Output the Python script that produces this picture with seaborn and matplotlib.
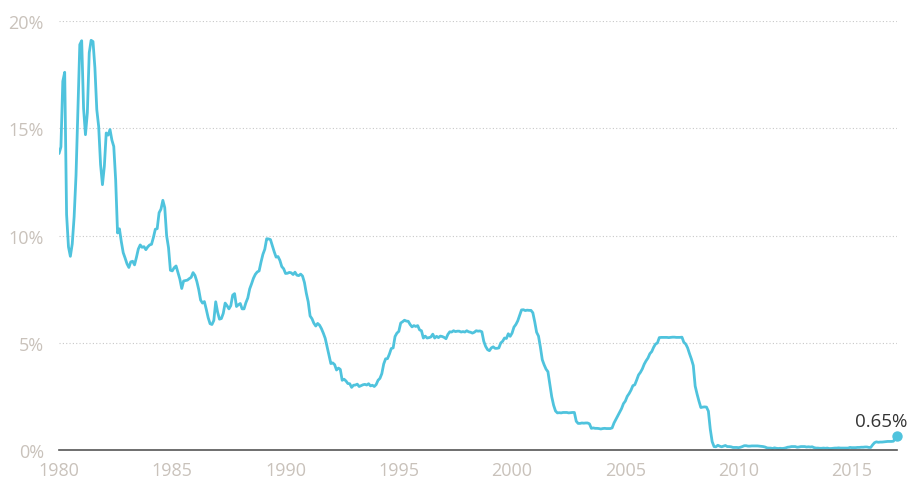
import numpy as np
import pandas as pd
import matplotlib.pyplot as plt
import seaborn as sns

sns.set_style("white")
plt.rcParams["font.family"] = ["Open Sans", "DejaVu Sans"]

# monthly rate, % (Jan 1980 .. Jan 2017)
rates_1980s = [
    13.82, 14.13, 17.19, 17.61, 10.98, 9.47, 9.03, 9.61, 10.87, 12.81, 15.85, 18.90,
    19.08, 15.93, 14.70, 15.72, 18.52, 19.10, 19.04, 17.82, 15.87, 15.08, 13.31, 12.37,
    13.22, 14.78, 14.68, 14.94, 14.45, 14.15, 12.59, 10.12, 10.31, 9.71, 9.20, 8.95,
    8.68, 8.51, 8.77, 8.80, 8.63, 8.98, 9.37, 9.56, 9.45, 9.48, 9.34, 9.47,
    9.56, 9.59, 9.91, 10.29, 10.32, 11.06, 11.23, 11.64, 11.30, 9.99, 9.43, 8.38,
    8.35, 8.50, 8.58, 8.27, 7.97, 7.53, 7.88, 7.90, 7.92, 7.99, 8.05, 8.27,
    8.14, 7.86, 7.48, 6.99, 6.85, 6.92, 6.56, 6.17, 5.89, 5.85, 6.04, 6.91,
    6.43, 6.10, 6.13, 6.37, 6.85, 6.73, 6.58, 6.73, 7.22, 7.29, 6.69, 6.77,
    6.83, 6.58, 6.58, 6.87, 7.09, 7.51, 7.75, 8.01, 8.19, 8.30, 8.35, 8.76,
    9.12, 9.36, 9.85, 9.84, 9.81, 9.53, 9.24, 8.99, 9.02, 8.84, 8.55, 8.45,
]
rates_1990s = [
    8.23, 8.24, 8.28, 8.26, 8.18, 8.29, 8.15, 8.13, 8.20, 8.11, 7.81, 7.31,
    6.91, 6.25, 6.12, 5.91, 5.78, 5.90, 5.82, 5.66, 5.45, 5.21, 4.81, 4.43,
    4.03, 4.06, 3.98, 3.73, 3.82, 3.76, 3.25, 3.30, 3.22, 3.10, 3.09, 2.92,
    3.02, 3.03, 3.07, 2.96, 3.00, 3.04, 3.06, 3.03, 3.09, 2.99, 3.02, 2.96,
    3.05, 3.25, 3.34, 3.56, 4.01, 4.25, 4.26, 4.47, 4.73, 4.76, 5.29, 5.45,
    5.53, 5.92, 5.98, 6.05, 6.01, 6.00, 5.85, 5.74, 5.80, 5.76, 5.80, 5.60,
    5.56, 5.22, 5.31, 5.22, 5.24, 5.27, 5.40, 5.22, 5.30, 5.24, 5.31, 5.29,
    5.25, 5.19, 5.39, 5.51, 5.50, 5.56, 5.52, 5.54, 5.54, 5.50, 5.52, 5.50,
    5.56, 5.51, 5.49, 5.45, 5.49, 5.56, 5.54, 5.55, 5.51, 5.07, 4.83, 4.68,
    4.63, 4.76, 4.81, 4.74, 4.74, 4.76, 4.99, 5.07, 5.22, 5.20, 5.42, 5.30,
]
rates_2000s = [
    5.45, 5.73, 5.85, 6.02, 6.27, 6.53, 6.54, 6.50, 6.52, 6.51, 6.51, 6.40,
    5.98, 5.49, 5.31, 4.80, 4.21, 3.97, 3.77, 3.65, 3.07, 2.49, 2.09, 1.82,
    1.73, 1.74, 1.73, 1.75, 1.75, 1.75, 1.73, 1.74, 1.75, 1.75, 1.34, 1.24,
    1.24, 1.26, 1.25, 1.26, 1.26, 1.22, 1.01, 1.03, 1.01, 1.01, 1.00, 0.98,
    1.00, 1.01, 1.00, 1.00, 1.00, 1.03, 1.26, 1.43, 1.61, 1.76, 1.93, 2.16,
    2.28, 2.50, 2.63, 2.79, 3.00, 3.04, 3.26, 3.50, 3.62, 3.78, 4.00, 4.16,
    4.29, 4.49, 4.59, 4.79, 4.94, 4.99, 5.24, 5.25, 5.25, 5.25, 5.25, 5.24,
    5.25, 5.26, 5.26, 5.25, 5.25, 5.25, 5.26, 5.02, 4.94, 4.76, 4.49, 4.24,
    3.94, 2.98, 2.61, 2.28, 1.98, 2.00, 2.01, 2.00, 1.81, 0.97, 0.39, 0.16,
    0.15, 0.22, 0.18, 0.15, 0.18, 0.21, 0.16, 0.16, 0.15, 0.12, 0.12, 0.12,
]
rates_2010s = [
    0.11, 0.13, 0.16, 0.20, 0.20, 0.18, 0.18, 0.19, 0.19, 0.19, 0.19, 0.18,
    0.17, 0.16, 0.14, 0.10, 0.09, 0.09, 0.07, 0.10, 0.08, 0.07, 0.08, 0.07,
    0.08, 0.10, 0.13, 0.14, 0.16, 0.16, 0.16, 0.13, 0.14, 0.16, 0.16, 0.16,
    0.14, 0.15, 0.14, 0.15, 0.11, 0.09, 0.09, 0.08, 0.08, 0.09, 0.08, 0.09,
    0.07, 0.07, 0.08, 0.09, 0.09, 0.10, 0.09, 0.09, 0.09, 0.09, 0.09, 0.12,
    0.11, 0.11, 0.11, 0.12, 0.12, 0.13, 0.13, 0.14, 0.14, 0.12, 0.12, 0.24,
    0.34, 0.38, 0.36, 0.37, 0.37, 0.38, 0.39, 0.40, 0.40, 0.40, 0.41, 0.54,
    0.65,
]
year_ticks = [1980, 1985, 1990, 1995, 2000, 2005, 2010, 2015]
pct_ticks = [0, 5, 10, 15, 20]

rates = rates_1980s + rates_1990s + rates_2000s + rates_2010s
df = pd.DataFrame({"year": 1980 + np.arange(len(rates)) / 12, "rate": rates})

line_col = "#4fc3dd"
label_col = "#c9c2bb"

fig = plt.figure(figsize=(9.11, 4.89), dpi=100)
ax = fig.add_axes([0.0648, 0.0777, 0.92, 0.8773])

sns.lineplot(data=df, x="year", y="rate", color=line_col, linewidth=2.0, ax=ax)
last = df.iloc[-1]
ax.scatter([last["year"]], [last["rate"]], s=42, color=line_col, zorder=5, clip_on=False)
ax.annotate(f"{last['rate']:.2f}%", (last["year"], last["rate"]),
            xytext=(-16, 6), textcoords="offset pixels", ha="center", va="bottom",
            fontsize=13.5, color="#333333", annotation_clip=False)

ax.set_xlim(1980, 2017)
ax.set_ylim(0, 20)
ax.set_xticks(year_ticks)
ax.set_yticks(pct_ticks)
ax.set_yticklabels([f"{v}%" for v in pct_ticks])
ax.set_xlabel("")
ax.set_ylabel("")

for v in pct_ticks[1:]:
    ax.axhline(v, color="#c8c8c8", linestyle=(0, (1, 2)), linewidth=0.8, zorder=0)

for s in ["top", "right", "left"]:
    ax.spines[s].set_visible(False)
ax.spines["bottom"].set_color("#555555")
ax.spines["bottom"].set_linewidth(1.2)

ax.tick_params(axis="x", length=6, width=1.2, color="#555555", direction="out",
               labelsize=13, labelcolor=label_col, pad=2)
ax.tick_params(axis="y", length=0, labelsize=13, labelcolor=label_col, pad=11)

fig.savefig("out.png", dpi=100)
